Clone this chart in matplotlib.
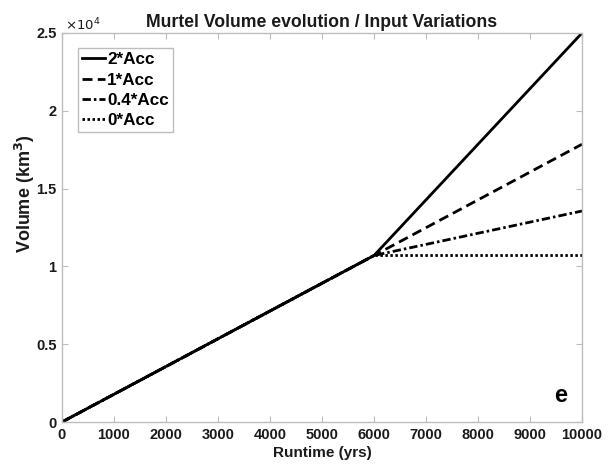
import numpy as np
import matplotlib
matplotlib.use("Agg")
import matplotlib.pyplot as plt
from matplotlib.ticker import FuncFormatter

plt.rcParams['font.family'] = ['Liberation Sans', 'DejaVu Sans']

# --- data ---
t_common = [0, 6000]
v_common = [0, 10700]
t_branch = [6000, 10000]
labels = ['2*Acc', '1*Acc', '0.4*Acc', '0*Acc']
v_branch_end = [25000, 17850, 13560, 10700]
styles = ['-', (0, (3.6, 1.9)), (0, (3.0, 1.1, 0.9, 1.1)), (0, (0.9, 0.9))]

W, H = 614, 466
fig = plt.figure(figsize=(W / 100, H / 100), dpi=100)
# axes box in pixels: left 62, right 582, top 33, bottom 422
ax = fig.add_axes([62 / W, (H - 422) / H, 520 / W, 389 / H])

grey = '#bdbdbd'
txt = '#1a1a1a'

for lab, vend, ls in zip(labels, v_branch_end, styles):
    ax.plot(t_common + t_branch[1:], v_common + [vend], color='k',
            linestyle=ls, linewidth=2.0, label=lab, dash_capstyle='butt')

ax.set_xlim(0, 10000)
ax.set_ylim(0, 25000)
ax.set_xticks(np.arange(0, 10001, 1000))
ax.set_yticks(np.arange(0, 25001, 5000))
ax.yaxis.set_major_formatter(FuncFormatter(lambda v, p: '%g' % (v / 1e4)))

ax.tick_params(direction='in', top=True, right=True, length=4, color=grey,
               labelsize=10.5, labelcolor=txt, width=0.8, pad=4)
for lbl in ax.get_xticklabels() + ax.get_yticklabels():
    lbl.set_fontweight('bold')
for s in ax.spines.values():
    s.set_color(grey)
    s.set_linewidth(1.0)

ax.set_xlabel('Runtime (yrs)', fontsize=11, fontweight='bold', color=txt, labelpad=3)
ax.set_ylabel('Volume (km$^\\mathbf{3}$)', fontsize=13, fontweight='bold', color=txt)
ax.yaxis.set_label_coords(-0.048, 0.586)
ax.set_title('Murtel Volume evolution / Input Variations', fontsize=12.7,
             fontweight='bold', color=txt, pad=4)

ax.text(0.005, 1.0, r'$\times10^{4}$', transform=ax.transAxes, fontsize=9.5,
        color=txt, ha='left', va='bottom')
ax.text(0.958, 0.067, 'e', transform=ax.transAxes, fontsize=17,
        fontweight='bold', color='k', ha='center', va='center')

leg = ax.legend(loc='upper left', bbox_to_anchor=(0.031, 0.961), fancybox=False,
                framealpha=1, edgecolor=grey, handlelength=1.35, handletextpad=0.1,
                labelspacing=0.3, borderpad=0.25, borderaxespad=0.0,
                prop={'weight': 'bold', 'size': 12.3})
leg.get_frame().set_linewidth(1.0)

fig.savefig('out.png', dpi=100)
